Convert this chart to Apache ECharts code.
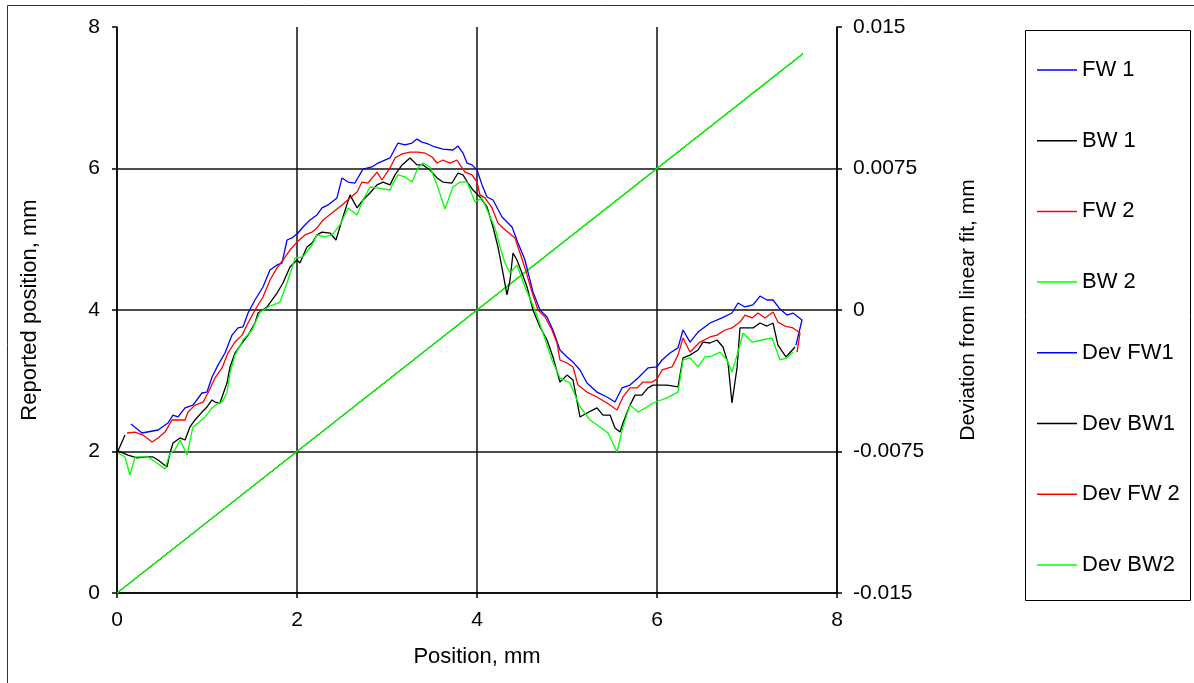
<!DOCTYPE html>
<html>
<head>
<meta charset="utf-8">
<script src="https://cdn.jsdelivr.net/npm/echarts@6/dist/echarts.min.js"></script>
<style>
  html, body { margin: 0; padding: 0; background: #fff; }
  #main { width: 1194px; height: 683px; }
</style>
</head>
<body>
<div id="main"></div>
<script>
// reported position vs position (all four runs overlap on the same straight line)
var reportedPos = [0, 7.62];
var reportedVal = [0, 7.62];

// deviation from linear fit, mm
var devFw1Pos = [0.156, 0.278, 0.456, 0.567, 0.622, 0.678, 0.756, 0.844, 0.944, 1.0, 1.056, 1.122, 1.2, 1.278, 1.344, 1.4, 1.456, 1.533, 1.622, 1.7, 1.778, 1.833, 1.889, 1.944, 2.011, 2.067, 2.144, 2.222, 2.278, 2.344, 2.444, 2.5, 2.567, 2.644, 2.733, 2.833, 2.9, 3.033, 3.122, 3.2, 3.278, 3.333, 3.389, 3.456, 3.533, 3.622, 3.733, 3.789, 3.844, 3.889, 3.944, 4.0, 4.056, 4.111, 4.178, 4.278, 4.389, 4.456, 4.533, 4.622, 4.7, 4.778, 4.844, 4.922, 5.0, 5.067, 5.144, 5.222, 5.333, 5.444, 5.533, 5.611, 5.7, 5.789, 5.9, 6.0, 6.056, 6.144, 6.233, 6.289, 6.367, 6.456, 6.589, 6.722, 6.833, 6.9, 6.978, 7.067, 7.144, 7.222, 7.289, 7.367, 7.444, 7.511, 7.611, 7.544];
var devFw1 = [-0.00604, -0.00652, -0.00636, -0.00599, -0.00557, -0.00567, -0.00519, -0.00504, -0.0044, -0.00435, -0.00355, -0.00292, -0.00228, -0.00133, -0.00095, -0.0009, -0.00016, 0.00053, 0.00122, 0.00212, 0.00239, 0.00249, 0.00371, 0.00382, 0.00408, 0.0044, 0.00477, 0.00504, 0.00541, 0.00557, 0.00594, 0.007, 0.00678, 0.00673, 0.00747, 0.00758, 0.00779, 0.00806, 0.00885, 0.00875, 0.00885, 0.00906, 0.0089, 0.0088, 0.00864, 0.00853, 0.00848, 0.00869, 0.00832, 0.00779, 0.00769, 0.00742, 0.00663, 0.00599, 0.00583, 0.00493, 0.0044, 0.00355, 0.00265, 0.00095, 0, -0.00037, -0.00106, -0.00212, -0.00249, -0.00276, -0.00318, -0.00387, -0.00435, -0.00461, -0.00488, -0.00413, -0.00398, -0.0036, -0.00307, -0.00302, -0.00265, -0.00228, -0.00201, -0.00106, -0.0017, -0.00117, -0.00069, -0.00042, -0.00016, 0.00037, 0.00016, 0.00027, 0.00074, 0.00053, 0.00053, 0.00005, -0.00027, -0.00016, -0.00053, -0.00186];

var devBw1Pos = [0.089, 0.011, 0.122, 0.222, 0.311, 0.4, 0.456, 0.556, 0.589, 0.622, 0.7, 0.756, 0.811, 0.867, 0.944, 1.0, 1.056, 1.089, 1.144, 1.222, 1.256, 1.311, 1.389, 1.456, 1.533, 1.567, 1.667, 1.778, 1.844, 1.922, 2.0, 2.033, 2.111, 2.167, 2.222, 2.278, 2.367, 2.433, 2.5, 2.589, 2.667, 2.733, 2.811, 2.889, 2.956, 3.033, 3.089, 3.167, 3.256, 3.333, 3.4, 3.478, 3.556, 3.622, 3.722, 3.789, 3.844, 3.9, 3.956, 4.033, 4.111, 4.178, 4.233, 4.289, 4.333, 4.367, 4.4, 4.444, 4.5, 4.556, 4.622, 4.7, 4.778, 4.844, 4.922, 5.0, 5.067, 5.144, 5.222, 5.333, 5.4, 5.478, 5.533, 5.589, 5.622, 5.7, 5.756, 5.833, 5.9, 5.956, 6.111, 6.233, 6.289, 6.367, 6.456, 6.511, 6.589, 6.667, 6.733, 6.789, 6.833, 6.889, 6.922, 7.0, 7.067, 7.144, 7.222, 7.289, 7.344, 7.433, 7.533];
var devBw1 = [-0.00663, -0.00747, -0.00769, -0.00784, -0.00779, -0.00779, -0.00795, -0.00832, -0.00758, -0.00705, -0.00678, -0.00689, -0.0062, -0.00583, -0.00541, -0.00514, -0.00477, -0.00488, -0.00493, -0.00387, -0.00302, -0.00228, -0.00175, -0.00133, -0.00069, -0.00016, 0.00016, 0.0009, 0.00143, 0.00228, 0.00265, 0.00249, 0.00334, 0.00355, 0.00398, 0.00413, 0.00408, 0.00371, 0.00477, 0.0061, 0.00541, 0.00583, 0.0062, 0.00663, 0.00678, 0.00663, 0.00716, 0.00769, 0.00806, 0.00769, 0.00769, 0.00742, 0.007, 0.00678, 0.00673, 0.00726, 0.00716, 0.00673, 0.00636, 0.00599, 0.00546, 0.0044, 0.00334, 0.00196, 0.0008, 0.00159, 0.00302, 0.00265, 0.00196, 0.00122, 0, -0.0009, -0.00159, -0.00249, -0.00382, -0.00345, -0.00371, -0.00567, -0.00546, -0.00519, -0.00557, -0.00557, -0.00625, -0.00647, -0.00599, -0.00504, -0.00451, -0.00451, -0.00413, -0.00398, -0.00398, -0.00408, -0.00254, -0.00239, -0.00212, -0.0017, -0.00175, -0.00159, -0.00196, -0.00281, -0.00493, -0.00307, -0.00095, -0.00095, -0.00095, -0.00069, -0.00085, -0.00069, -0.00186, -0.00249, -0.00196];

var devFw2Pos = [0.111, 0.2, 0.289, 0.389, 0.456, 0.533, 0.611, 0.756, 0.789, 0.867, 0.956, 1.011, 1.089, 1.167, 1.233, 1.311, 1.389, 1.456, 1.533, 1.622, 1.7, 1.778, 1.844, 1.922, 2.0, 2.089, 2.167, 2.222, 2.289, 2.389, 2.5, 2.589, 2.667, 2.722, 2.789, 2.889, 2.944, 3.033, 3.089, 3.167, 3.256, 3.344, 3.422, 3.5, 3.556, 3.622, 3.7, 3.778, 3.811, 3.867, 3.944, 4.0, 4.033, 4.089, 4.167, 4.233, 4.289, 4.422, 4.478, 4.533, 4.611, 4.678, 4.756, 4.833, 4.889, 4.922, 5.0, 5.067, 5.122, 5.222, 5.333, 5.444, 5.556, 5.622, 5.7, 5.778, 5.844, 5.944, 6.0, 6.056, 6.167, 6.233, 6.289, 6.367, 6.478, 6.589, 6.667, 6.756, 6.833, 6.922, 6.978, 7.056, 7.122, 7.2, 7.289, 7.344, 7.422, 7.511, 7.589, 7.556];
var devFw2 = [-0.00652, -0.00647, -0.00663, -0.007, -0.00678, -0.00647, -0.00583, -0.00583, -0.00541, -0.00504, -0.00488, -0.0044, -0.0036, -0.00307, -0.00228, -0.0017, -0.00133, -0.00069, 0, 0.00069, 0.00159, 0.00223, 0.00265, 0.00318, 0.0036, 0.00398, 0.00413, 0.00435, 0.00477, 0.00514, 0.00557, 0.00594, 0.00625, 0.00678, 0.00673, 0.00731, 0.00689, 0.00753, 0.00806, 0.00827, 0.00837, 0.00837, 0.00832, 0.00811, 0.00779, 0.00795, 0.00779, 0.00795, 0.00769, 0.00731, 0.00716, 0.00678, 0.0061, 0.00594, 0.00541, 0.00461, 0.00435, 0.00382, 0.00302, 0.00223, 0.00095, 0, -0.00037, -0.00106, -0.00175, -0.00265, -0.00281, -0.00302, -0.00398, -0.00435, -0.00461, -0.00493, -0.0053, -0.00461, -0.00413, -0.00413, -0.00382, -0.00382, -0.00366, -0.00318, -0.00302, -0.00239, -0.00148, -0.00223, -0.0017, -0.00143, -0.00133, -0.00106, -0.00095, -0.00064, -0.00027, -0.00042, -0.00016, -0.00042, -0.00011, -0.00064, -0.00085, -0.00095, -0.00122, -0.00223];

var devBw2Pos = [0.011, 0.089, 0.144, 0.2, 0.278, 0.344, 0.444, 0.533, 0.589, 0.644, 0.7, 0.778, 0.844, 0.9, 0.978, 1.056, 1.122, 1.167, 1.222, 1.256, 1.311, 1.4, 1.5, 1.589, 1.7, 1.811, 1.889, 1.944, 1.978, 2.067, 2.122, 2.167, 2.222, 2.311, 2.389, 2.478, 2.567, 2.667, 2.733, 2.811, 2.889, 3.033, 3.056, 3.122, 3.2, 3.278, 3.344, 3.4, 3.478, 3.556, 3.644, 3.733, 3.811, 3.889, 3.978, 4.056, 4.122, 4.2, 4.256, 4.311, 4.367, 4.444, 4.533, 4.644, 4.733, 4.833, 4.922, 5.033, 5.144, 5.256, 5.367, 5.456, 5.556, 5.622, 5.7, 5.789, 5.889, 5.956, 6.111, 6.233, 6.289, 6.367, 6.456, 6.533, 6.611, 6.7, 6.778, 6.833, 6.9, 6.956, 7.056, 7.167, 7.278, 7.367, 7.444, 7.511];
var devBw2 = [-0.00758, -0.00779, -0.00875, -0.00779, -0.00779, -0.00779, -0.00811, -0.00843, -0.00758, -0.00742, -0.00689, -0.00769, -0.0062, -0.00599, -0.00567, -0.00519, -0.00493, -0.00488, -0.0044, -0.00334, -0.00239, -0.00159, -0.00106, -0.00011, 0.00021, 0.00042, 0.00143, 0.00223, 0.00276, 0.00281, 0.00318, 0.00345, 0.00398, 0.00387, 0.00398, 0.00451, 0.00541, 0.00504, 0.00583, 0.00652, 0.00647, 0.00636, 0.00663, 0.00716, 0.00705, 0.00678, 0.00753, 0.00779, 0.00758, 0.00663, 0.00535, 0.00652, 0.00678, 0.00678, 0.00572, 0.00594, 0.00519, 0.00435, 0.00334, 0.00249, 0.00196, 0.00239, 0.00122, 0, -0.00122, -0.00265, -0.0036, -0.00387, -0.00514, -0.00583, -0.0062, -0.00652, -0.00753, -0.0062, -0.00504, -0.00541, -0.00514, -0.00493, -0.00466, -0.00435, -0.00265, -0.00254, -0.00302, -0.00249, -0.00244, -0.00223, -0.00265, -0.00329, -0.00223, -0.00122, -0.0017, -0.00159, -0.00148, -0.00265, -0.00254, -0.00223];

var leftTicks = [0, 2, 4, 6, 8];
var rightTicks = [-0.015, -0.0075, 0, 0.0075, 0.015];
var legendNames = ['FW 1', 'BW 1', 'FW 2', 'BW 2', 'Dev FW1', 'Dev BW1', 'Dev FW 2', 'Dev BW2'];

function pairs(xs, ys) {
    var out = [];
    for (var i = 0; i < xs.length; i++) {
        out.push([xs[i], ys[i]]);
    }
    return out;
}

var font = '"Liberation Sans", Arial, sans-serif';
var nameStyle = { color: '#000', fontSize: 22, fontFamily: font };
var tickStyle = { color: '#000', fontSize: 21, fontFamily: font };

function lineSeries(name, color, data, axis, width) {
    return {
        name: name,
        type: 'line',
        yAxisIndex: axis,
        data: data,
        symbol: 'none',
        showSymbol: false,
        silent: true,
        lineStyle: { color: color, width: width },
        itemStyle: { color: color }
    };
}

var option = {
    animation: false,
    backgroundColor: '#fff',
    grid: { left: 117, right: 357, top: 27, bottom: 90 },
    legend: {
        orient: 'vertical',
        left: 1037,
        top: 59,
        padding: 0,
        itemWidth: 40,
        itemHeight: 1.5,
        itemGap: 48.7,
        icon: 'rect',
        textStyle: { color: '#000', fontSize: 22, lineHeight: 22, fontFamily: font },
        data: legendNames
    },
    graphic: [
        {
            type: 'rect',
            shape: { x: 7.5, y: 5.5, width: 1200, height: 700 },
            style: { fill: null, stroke: '#333', lineWidth: 1 },
            silent: true
        },
        {
            type: 'rect',
            shape: { x: 1025.5, y: 30.5, width: 165, height: 570 },
            style: { fill: null, stroke: '#000', lineWidth: 1 },
            silent: true
        }
    ],
    xAxis: {
        type: 'value',
        min: 0,
        max: 8,
        interval: 2,
        name: 'Position, mm',
        nameLocation: 'middle',
        nameGap: 53,
        nameTextStyle: nameStyle,
        axisLine: { onZero: false, lineStyle: { color: '#000', width: 1.5 } },
        axisTick: { show: true, length: 5, lineStyle: { color: '#000', width: 1.5 } },
        axisLabel: Object.assign({ margin: 17 }, tickStyle),
        splitLine: { show: true, lineStyle: { color: '#111', width: 1.5 } }
    },
    yAxis: [
        {
            type: 'value',
            min: leftTicks[0],
            max: leftTicks[leftTicks.length - 1],
            interval: 2,
            name: 'Reported position, mm',
            nameLocation: 'middle',
            nameRotate: 90,
            nameGap: 76,
            nameTextStyle: nameStyle,
            axisLine: { show: true, onZero: false, lineStyle: { color: '#000', width: 1.5 } },
            axisTick: { show: true, length: 5, lineStyle: { color: '#000', width: 1.5 } },
            axisLabel: Object.assign({ margin: 17 }, tickStyle),
            splitLine: { show: true, showMaxLine: false, lineStyle: { color: '#111', width: 1.5 } }
        },
        {
            type: 'value',
            position: 'right',
            min: rightTicks[0],
            max: rightTicks[rightTicks.length - 1],
            interval: 0.0075,
            name: 'Deviation from linear fit, mm',
            nameLocation: 'middle',
            nameRotate: 90,
            nameGap: 121,
            nameTextStyle: { color: '#000', fontSize: 21, fontFamily: font },
            axisLine: { show: true, onZero: false, lineStyle: { color: '#000', width: 1.5 } },
            axisTick: { show: true, length: 5, lineStyle: { color: '#000', width: 1.5 } },
            axisLabel: Object.assign({
                margin: 16,
                formatter: function (v) { return String(+v.toFixed(4)); }
            }, tickStyle),
            splitLine: { show: false }
        }
    ],
    series: [
        lineSeries(legendNames[0], '#0000ff', pairs(reportedPos, reportedVal), 0, 1),
        lineSeries(legendNames[1], '#000000', pairs(reportedPos, reportedVal), 0, 1),
        lineSeries(legendNames[2], '#ff0000', pairs(reportedPos, reportedVal), 0, 1),
        lineSeries(legendNames[3], '#00ff00', pairs(reportedPos, reportedVal), 0, 1.4),
        lineSeries(legendNames[4], '#0000ff', pairs(devFw1Pos, devFw1), 1, 1.3),
        lineSeries(legendNames[5], '#000000', pairs(devBw1Pos, devBw1), 1, 1.3),
        lineSeries(legendNames[6], '#ff0000', pairs(devFw2Pos, devFw2), 1, 1.3),
        lineSeries(legendNames[7], '#00ff00', pairs(devBw2Pos, devBw2), 1, 1.3)
    ]
};

var myChart = echarts.init(document.getElementById('main'));
myChart.setOption(option);
</script>
</body>
</html>
